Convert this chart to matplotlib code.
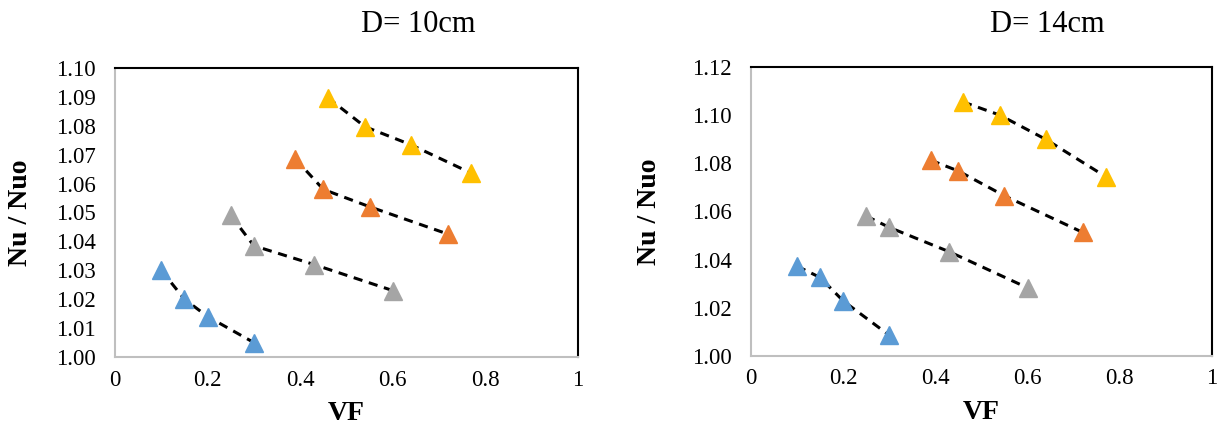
import matplotlib
matplotlib.use('Agg')
import matplotlib.pyplot as plt
from matplotlib.ticker import FuncFormatter

plt.rcParams['font.family'] = ['Liberation Serif', 'DejaVu Serif']

# x values (volume fraction) for each series
vf_blue = [0.10, 0.15, 0.20, 0.30]
vf_gray = [0.25, 0.30, 0.43, 0.60]
vf_orange = [0.39, 0.45, 0.55, 0.72]
vf_yellow = [0.46, 0.54, 0.64, 0.77]

# D = 10cm
nu10_blue = [1.030, 1.020, 1.014, 1.005]
nu10_gray = [1.049, 1.0385, 1.032, 1.023]
nu10_orange = [1.0685, 1.058, 1.052, 1.0425]
nu10_yellow = [1.0897, 1.0797, 1.0734, 1.0636]

# D = 14cm
nu14_blue = [1.0373, 1.0326, 1.0229, 1.0086]
nu14_gray = [1.0581, 1.0534, 1.0433, 1.0283]
nu14_orange = [1.0813, 1.0768, 1.0665, 1.0513]
nu14_yellow = [1.1055, 1.1000, 1.0899, 1.0744]

titles = ['D= 10cm', 'D= 14cm']
colors = ['#5B9BD5', '#A5A5A5', '#ED7D31', '#FFC000']

fig = plt.figure(figsize=(12.21, 4.25), dpi=100)
ax1 = fig.add_axes([0.0942, 0.160, 0.379, 0.680])
ax2 = fig.add_axes([0.615, 0.1624, 0.3776, 0.680])

panels = [
    (ax1, [nu10_blue, nu10_gray, nu10_orange, nu10_yellow], (1.00, 1.10), 0.01, -0.205),
    (ax2, [nu14_blue, nu14_gray, nu14_orange, nu14_yellow], (1.00, 1.12), 0.02, -0.221),
]
xs = [vf_blue, vf_gray, vf_orange, vf_yellow]

for ax, ys, ylim, step, ylab_x in panels:
    for x, y, c in zip(xs, ys, colors):
        ax.plot(x, y, color='black', ls=(0, (3, 2.2)), lw=2.2, zorder=2)
        ax.plot(x, y, ls='none', marker='^', ms=13, color=c, mec=c, zorder=3)
    ax.set_xlim(0, 1)
    ax.set_ylim(*ylim)
    n = int(round((ylim[1] - ylim[0]) / step))
    ax.set_yticks([ylim[0] + i * step for i in range(n + 1)])
    ax.set_xticks([0, 0.2, 0.4, 0.6, 0.8, 1.0])
    ax.xaxis.set_major_formatter(FuncFormatter(lambda v, p: '%g' % round(v, 2)))
    ax.yaxis.set_major_formatter(FuncFormatter(lambda v, p: '%.2f' % v))
    ax.tick_params(length=0, labelsize=16.5)
    ax.tick_params(axis='y', pad=14)
    ax.tick_params(axis='x', pad=9)
    ax.set_xlabel('VF', fontsize=20, fontweight='bold')
    ax.set_ylabel('Nu / Nuo', fontsize=20, fontweight='bold')
    ax.xaxis.set_label_coords(0.5, -57 / 289, transform=ax.transAxes)
    ax.yaxis.set_label_coords(ylab_x, 0.5, transform=ax.transAxes)
    ax.xaxis.label.set_va('center')
    ax.yaxis.label.set_va('center')
    for s in ['left', 'bottom']:
        ax.spines[s].set_color('#bfbfbf')
        ax.spines[s].set_linewidth(1.5)
    for s in ['top', 'right']:
        ax.spines[s].set_color('black')
        ax.spines[s].set_linewidth(1.5)

fig.text(418 / 1221, 1 - 24 / 425, titles[0], fontsize=22, ha='center', va='center')
fig.text(1047 / 1221, 1 - 24 / 425, titles[1], fontsize=22, ha='center', va='center')

fig.savefig('out.png', dpi=100)
